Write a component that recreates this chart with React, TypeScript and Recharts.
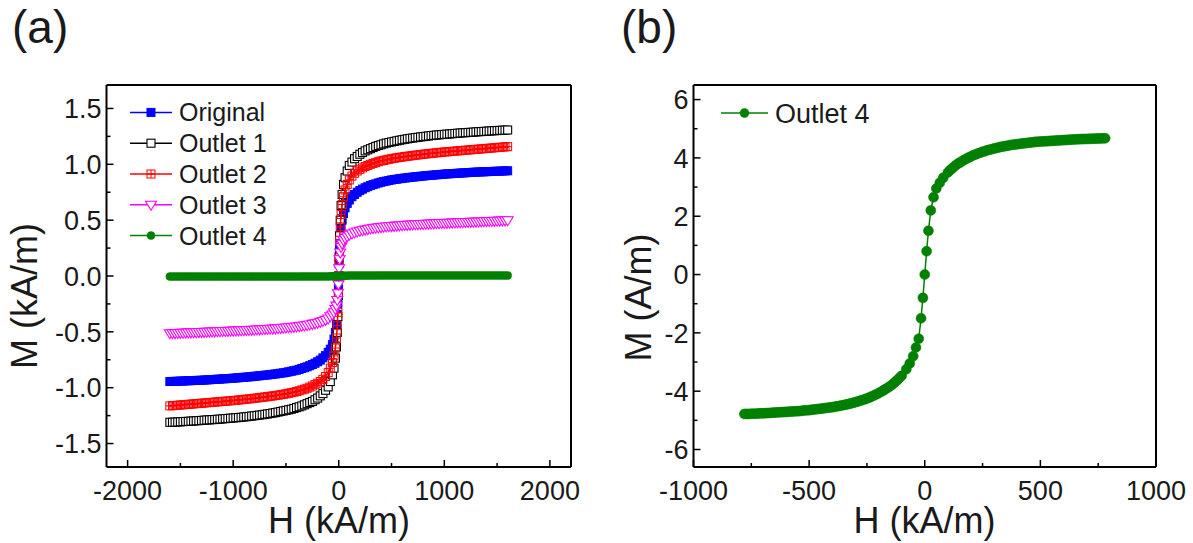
import React from 'react';
import { ScatterChart, Scatter, XAxis, YAxis, ReferenceLine, Legend, Label } from 'recharts';

const FONT = '"Liberation Sans", Arial, Helvetica, sans-serif';
const INK = '#1a1a1a';

// ---- panel (a): M (kA/m) vs H (kA/m) ----
const hA = [
  -1600, -1575, -1550, -1525, -1500, -1475, -1450, -1425, -1400, -1375, -1350, -1325, -1300, -1275, -1250, -1225,
  -1200, -1175, -1150, -1125, -1100, -1075, -1050, -1025, -1000, -975, -950, -925, -900, -875, -850, -825,
  -800, -775, -750, -725, -700, -675, -650, -625, -600, -575, -550, -525, -500, -475, -450, -425,
  -400, -375, -350, -325, -300, -275, -250, -225, -200, -175, -150, -125, -100,
  -80, -60, -45, -32, -22, -14, -8, -3, 0, 3, 8, 14, 22, 32, 45, 60, 80,
  100, 125, 150, 175, 200, 225, 250, 275, 300, 325, 350, 375, 400, 425, 450, 475,
  500, 525, 550, 575, 600, 625, 650, 675, 700, 725, 750, 775, 800, 825, 850, 875,
  900, 925, 950, 975, 1000, 1025, 1050, 1075, 1100, 1125, 1150, 1175, 1200, 1225, 1250, 1275,
  1300, 1325, 1350, 1375, 1400, 1425, 1450, 1475, 1500, 1525, 1550, 1575, 1600,
];

const mOriginal = [
  -0.945, -0.944, -0.943, -0.942, -0.941, -0.94, -0.939, -0.938, -0.937, -0.936, -0.935, -0.934, -0.933, -0.932, -0.93, -0.929,
  -0.927, -0.926, -0.924, -0.923, -0.921, -0.92, -0.918, -0.917, -0.915, -0.913, -0.911, -0.909, -0.907, -0.905, -0.903, -0.901,
  -0.898, -0.896, -0.893, -0.891, -0.888, -0.886, -0.883, -0.88, -0.877, -0.874, -0.87, -0.867, -0.863, -0.858, -0.853, -0.848,
  -0.843, -0.836, -0.828, -0.821, -0.813, -0.803, -0.793, -0.781, -0.768, -0.753, -0.733, -0.713, -0.683,
  -0.655, -0.615, -0.565, -0.505, -0.435, -0.345, -0.245, -0.115, 0, 0.11, 0.24, 0.34, 0.43, 0.5, 0.56, 0.61, 0.65,
  0.68, 0.71, 0.73, 0.75, 0.765, 0.778, 0.79, 0.8, 0.81, 0.818, 0.825, 0.833, 0.84, 0.845, 0.85, 0.855,
  0.86, 0.864, 0.867, 0.871, 0.874, 0.877, 0.88, 0.883, 0.885, 0.888, 0.89, 0.893, 0.895, 0.898, 0.9, 0.902,
  0.904, 0.906, 0.908, 0.91, 0.912, 0.914, 0.915, 0.917, 0.918, 0.92, 0.921, 0.923, 0.924, 0.926, 0.927, 0.929,
  0.93, 0.931, 0.932, 0.933, 0.934, 0.935, 0.936, 0.937, 0.938, 0.939, 0.94, 0.941, 0.942,
];

const mOutlet1 = [
  -1.31, -1.309, -1.308, -1.307, -1.305, -1.304, -1.302, -1.301, -1.299, -1.298, -1.296, -1.295, -1.293, -1.291, -1.289, -1.288,
  -1.286, -1.285, -1.283, -1.281, -1.279, -1.277, -1.275, -1.273, -1.271, -1.269, -1.267, -1.265, -1.262, -1.26, -1.257, -1.254,
  -1.251, -1.248, -1.245, -1.242, -1.238, -1.235, -1.231, -1.227, -1.223, -1.218, -1.213, -1.208, -1.203, -1.198, -1.193, -1.186,
  -1.178, -1.171, -1.163, -1.153, -1.143, -1.133, -1.123, -1.108, -1.093, -1.073, -1.053, -1.023, -0.993,
  -0.945, -0.885, -0.825, -0.735, -0.635, -0.505, -0.365, -0.175, 0, 0.17, 0.36, 0.5, 0.63, 0.73, 0.82, 0.88, 0.94,
  0.99, 1.02, 1.05, 1.07, 1.09, 1.105, 1.12, 1.13, 1.14, 1.15, 1.16, 1.168, 1.175, 1.183, 1.19, 1.195,
  1.2, 1.205, 1.21, 1.215, 1.22, 1.224, 1.228, 1.232, 1.235, 1.239, 1.242, 1.245, 1.248, 1.251, 1.254, 1.257,
  1.259, 1.262, 1.264, 1.266, 1.268, 1.27, 1.272, 1.274, 1.276, 1.278, 1.28, 1.282, 1.283, 1.285, 1.286, 1.288,
  1.29, 1.292, 1.293, 1.295, 1.296, 1.298, 1.299, 1.301, 1.302, 1.304, 1.305, 1.306, 1.307,
];

const mOutlet2 = [
  -1.163, -1.161, -1.159, -1.157, -1.155, -1.153, -1.151, -1.149, -1.147, -1.145, -1.143, -1.141, -1.139, -1.137, -1.135, -1.133,
  -1.131, -1.129, -1.127, -1.125, -1.123, -1.121, -1.119, -1.117, -1.115, -1.113, -1.11, -1.108, -1.105, -1.103, -1.1, -1.098,
  -1.095, -1.092, -1.089, -1.086, -1.083, -1.08, -1.077, -1.074, -1.07, -1.067, -1.063, -1.059, -1.055, -1.05, -1.045, -1.04,
  -1.035, -1.028, -1.02, -1.013, -1.005, -0.995, -0.985, -0.973, -0.96, -0.945, -0.925, -0.9, -0.865,
  -0.825, -0.775, -0.715, -0.645, -0.555, -0.445, -0.325, -0.155, 0, 0.15, 0.32, 0.44, 0.55, 0.64, 0.71, 0.77, 0.82,
  0.86, 0.895, 0.92, 0.94, 0.955, 0.968, 0.98, 0.99, 1.0, 1.008, 1.015, 1.023, 1.03, 1.035, 1.04, 1.045,
  1.05, 1.054, 1.058, 1.062, 1.065, 1.069, 1.072, 1.075, 1.078, 1.081, 1.084, 1.087, 1.09, 1.093, 1.095, 1.098,
  1.1, 1.103, 1.105, 1.108, 1.11, 1.112, 1.114, 1.116, 1.118, 1.12, 1.122, 1.124, 1.126, 1.128, 1.13, 1.132,
  1.134, 1.136, 1.138, 1.14, 1.142, 1.144, 1.146, 1.148, 1.15, 1.152, 1.154, 1.156, 1.158,
];

const mOutlet3 = [
  -0.513, -0.512, -0.511, -0.51, -0.509, -0.508, -0.507, -0.506, -0.505, -0.504, -0.503, -0.502, -0.501, -0.5, -0.499, -0.498,
  -0.497, -0.496, -0.495, -0.494, -0.493, -0.492, -0.491, -0.49, -0.489, -0.488, -0.487, -0.486, -0.485, -0.484, -0.483, -0.482,
  -0.481, -0.479, -0.478, -0.477, -0.475, -0.474, -0.472, -0.471, -0.469, -0.467, -0.465, -0.463, -0.461, -0.459, -0.457, -0.455,
  -0.452, -0.449, -0.446, -0.443, -0.439, -0.434, -0.429, -0.424, -0.418, -0.411, -0.403, -0.393, -0.38,
  -0.36, -0.345, -0.325, -0.295, -0.265, -0.215, -0.155, -0.075, 0, 0.07, 0.15, 0.21, 0.26, 0.29, 0.32, 0.34, 0.355,
  0.37, 0.38, 0.39, 0.398, 0.405, 0.41, 0.415, 0.42, 0.425, 0.429, 0.432, 0.435, 0.438, 0.441, 0.443, 0.445,
  0.447, 0.449, 0.451, 0.453, 0.455, 0.457, 0.458, 0.46, 0.461, 0.463, 0.464, 0.465, 0.466, 0.468, 0.469, 0.47,
  0.471, 0.472, 0.473, 0.474, 0.475, 0.476, 0.477, 0.478, 0.479, 0.48, 0.481, 0.482, 0.483, 0.484, 0.485, 0.486,
  0.487, 0.488, 0.489, 0.49, 0.491, 0.492, 0.493, 0.494, 0.495, 0.496, 0.497, 0.498, 0.499,
];

const mOutlet4A = [
  -0.005, -0.005, -0.005, -0.005, -0.005, -0.005, -0.005, -0.005, -0.005, -0.005, -0.005, -0.005, -0.005, -0.005, -0.005, -0.005,
  -0.005, -0.005, -0.005, -0.005, -0.005, -0.005, -0.005, -0.005, -0.005, -0.005, -0.005, -0.005, -0.005, -0.005, -0.005, -0.005,
  -0.005, -0.005, -0.005, -0.005, -0.005, -0.005, -0.005, -0.005, -0.005, -0.005, -0.005, -0.005, -0.005, -0.005, -0.005, -0.005,
  -0.005, -0.005, -0.004, -0.004, -0.004, -0.004, -0.004, -0.004, -0.004, -0.004, -0.004, -0.004, -0.004,
  -0.003, -0.003, -0.002, -0.002, -0.002, -0.001, -0.001, 0, 0, 0, 0.001, 0.001, 0.002, 0.002, 0.002, 0.003, 0.003,
  0.004, 0.004, 0.004, 0.004, 0.004, 0.004, 0.004, 0.004, 0.004, 0.004, 0.004, 0.005, 0.005, 0.005, 0.005, 0.005,
  0.005, 0.005, 0.005, 0.005, 0.005, 0.005, 0.005, 0.005, 0.005, 0.005, 0.005, 0.005, 0.005, 0.005, 0.005, 0.005,
  0.005, 0.005, 0.005, 0.005, 0.005, 0.005, 0.005, 0.005, 0.005, 0.005, 0.005, 0.005, 0.005, 0.005, 0.005, 0.005,
  0.005, 0.005, 0.005, 0.005, 0.005, 0.005, 0.005, 0.005, 0.005, 0.005, 0.005, 0.005, 0.005,
];

const xTicksA = [-2000, -1500, -1000, -500, 0, 500, 1000, 1500, 2000];
const xMajorsA = [-2000, -1000, 0, 1000, 2000];
const yTicksA = [-1.5, -1.25, -1, -0.75, -0.5, -0.25, 0, 0.25, 0.5, 0.75, 1, 1.25, 1.5];
const yMajorsA = [-1.5, -1, -0.5, 0, 0.5, 1, 1.5];

// ---- panel (b): Outlet 4, M (A/m) vs H (kA/m) ----
const hB = [
  -780, -770, -760, -750, -740, -730, -720, -710, -700, -690, -680, -670, -660, -650, -640, -630, -620, -610, -600, -590,
  -580, -570, -560, -550, -540, -530, -520, -510, -500, -490, -480, -470, -460, -450, -440, -430, -420, -410, -400, -390,
  -380, -370, -360, -350, -340, -330, -320, -310, -300, -290, -280, -270, -260, -250, -240, -230, -220, -210, -200, -190,
  -180, -170, -160, -150, -140, -130, -120, -110, -100,
  -80, -65, -50, -38, -26, -16, -8, 0, 8, 16, 26, 38, 50, 65, 80,
  100, 110, 120, 130, 140, 150, 160, 170, 180, 190, 200, 210, 220, 230, 240, 250, 260, 270, 280, 290,
  300, 310, 320, 330, 340, 350, 360, 370, 380, 390, 400, 410, 420, 430, 440, 450, 460, 470, 480, 490,
  500, 510, 520, 530, 540, 550, 560, 570, 580, 590, 600, 610, 620, 630, 640, 650, 660, 670, 680, 690,
  700, 710, 720, 730, 740, 750, 760, 770, 780,
];

const mOutlet4B = [
  -4.78, -4.78, -4.78, -4.775, -4.77, -4.77, -4.765, -4.76, -4.76, -4.755, -4.75, -4.745, -4.74, -4.735, -4.73, -4.725, -4.72, -4.715, -4.71, -4.705,
  -4.7, -4.695, -4.69, -4.685, -4.68, -4.67, -4.66, -4.655, -4.65, -4.64, -4.63, -4.62, -4.61, -4.6, -4.59, -4.58, -4.57, -4.56, -4.55, -4.535,
  -4.52, -4.505, -4.49, -4.475, -4.46, -4.44, -4.42, -4.4, -4.38, -4.355, -4.33, -4.305, -4.28, -4.25, -4.22, -4.185, -4.15, -4.11, -4.07, -4.025,
  -3.98, -3.93, -3.88, -3.83, -3.77, -3.7, -3.63, -3.55, -3.47,
  -3.25, -3.05, -2.8, -2.5, -2.2, -1.5, -0.8, 0, 0.8, 1.5, 2.2, 2.65, 2.95, 3.15, 3.32,
  3.5, 3.58, 3.65, 3.72, 3.78, 3.83, 3.88, 3.93, 3.97, 4.01, 4.05, 4.09, 4.12, 4.15, 4.18, 4.21, 4.23, 4.26, 4.28, 4.3,
  4.32, 4.34, 4.36, 4.38, 4.39, 4.41, 4.42, 4.44, 4.45, 4.46, 4.47, 4.48, 4.49, 4.5, 4.51, 4.52, 4.53, 4.54, 4.55, 4.555,
  4.56, 4.565, 4.57, 4.575, 4.58, 4.585, 4.59, 4.595, 4.6, 4.605, 4.61, 4.615, 4.62, 4.625, 4.63, 4.635, 4.64, 4.642, 4.645, 4.648,
  4.65, 4.653, 4.656, 4.659, 4.662, 4.665, 4.668, 4.67, 4.672,
];

const xTicksB = [-1000, -750, -500, -250, 0, 250, 500, 750, 1000];
const xMajorsB = [-1000, -500, 0, 500, 1000];
const yTicksB = [-6, -5, -4, -3, -2, -1, 0, 1, 2, 3, 4, 5, 6];
const yMajorsB = [-6, -4, -2, 0, 2, 4, 6];

const toPoints = (hs: number[], ms: number[]) => hs.map((h, i) => ({ h, m: ms[i] }));

type Kind = 'fsquare' | 'osquare' | 'xsquare' | 'otri' | 'circle';

const seriesA = [
  { name: 'Original', color: '#0000ff', kind: 'fsquare' as Kind, size: 8, data: toPoints(hA, mOriginal) },
  { name: 'Outlet 1', color: '#000000', kind: 'osquare' as Kind, size: 8, data: toPoints(hA, mOutlet1) },
  { name: 'Outlet 2', color: '#ff0000', kind: 'xsquare' as Kind, size: 8, data: toPoints(hA, mOutlet2) },
  { name: 'Outlet 3', color: '#ff00ff', kind: 'otri' as Kind, size: 9, data: toPoints(hA, mOutlet3) },
  { name: 'Outlet 4', color: '#008000', kind: 'circle' as Kind, size: 8, data: toPoints(hA, mOutlet4A) },
];

const seriesB = [
  { name: 'Outlet 4', color: '#008000', kind: 'circle' as Kind, size: 10, data: toPoints(hB, mOutlet4B) },
];

function drawMarker(kind: Kind, color: string, cx: number, cy: number, s: number) {
  const h = s / 2;
  switch (kind) {
    case 'fsquare':
      return <rect x={cx - h} y={cy - h} width={s} height={s} fill={color} stroke={color} strokeWidth={1} />;
    case 'osquare':
      return <rect x={cx - h} y={cy - h} width={s} height={s} fill="#fff" stroke={color} strokeWidth={1.1} />;
    case 'xsquare':
      return (
        <g stroke={color} strokeWidth={1} fill="none">
          <rect x={cx - h} y={cy - h} width={s} height={s} />
          <line x1={cx} x2={cx} y1={cy - h} y2={cy + h} />
          <line x1={cx - h} x2={cx + h} y1={cy} y2={cy} />
        </g>
      );
    case 'otri':
      return (
        <path
          d={`M${cx - h - 1},${cy - h + 1} L${cx + h + 1},${cy - h + 1} L${cx},${cy + h + 1} Z`}
          fill="#fff"
          stroke={color}
          strokeWidth={1.1}
        />
      );
    default:
      return <circle cx={cx} cy={cy} r={h} fill={color} stroke={color} strokeWidth={0.5} />;
  }
}

const shapeFor = (kind: Kind, color: string, size: number) => (p: any) =>
  drawMarker(kind, color, p.cx, p.cy, size);

const yTick = (majors: number[], fmt: (v: number) => string) => (p: any) => {
  const { x, y, payload } = p;
  const major = majors.includes(payload.value);
  return (
    <g>
      <line x1={x} x2={x + (major ? 7 : 4)} y1={y} y2={y} stroke="#000" strokeWidth={1.5} />
      {major && (
        <text x={x - 5} y={y} dy="0.36em" textAnchor="end" fontSize={27} fontFamily={FONT} fill={INK}>
          {fmt(payload.value)}
        </text>
      )}
    </g>
  );
};

const xTick = (majors: number[]) => (p: any) => {
  const { x, y, payload } = p;
  const major = majors.includes(payload.value);
  return (
    <g>
      <line x1={x} x2={x} y1={y} y2={y - (major ? 7 : 4)} stroke="#000" strokeWidth={1.5} />
      {major && (
        <text x={x} y={y + 33} textAnchor="middle" fontSize={27} fontFamily={FONT} fill={INK}>
          {String(payload.value)}
        </text>
      )}
    </g>
  );
};

const xTitle = (text: string, cx: number) => () => (
  <text x={cx} y={533} textAnchor="middle" fontSize={36} fontFamily={FONT} fill={INK}>
    {text}
  </text>
);

const yTitle = (text: string, bx: number, cy: number) => () => (
  <text
    x={bx}
    y={cy}
    transform={`rotate(-90 ${bx} ${cy})`}
    textAnchor="middle"
    fontSize={36}
    fontFamily={FONT}
    fill={INK}
  >
    {text}
  </text>
);

function LegendBox({ items, rowH, lineW, fontSize }: any) {
  return (
    <svg width={240} height={items.length * rowH} style={{ display: 'block', overflow: 'visible' }}>
      {items.map((it: any, i: number) => {
        const cy = rowH * i + rowH / 2;
        return (
          <g key={it.name + i}>
            <line x1={0} x2={lineW} y1={cy} y2={cy} stroke={it.color} strokeWidth={1.5} />
            {drawMarker(it.kind, it.color, lineW / 2, cy, it.size)}
            <text x={lineW + 7} y={cy} dy="0.36em" fontSize={fontSize} fontFamily={FONT} fill={INK}>
              {it.name}
            </text>
          </g>
        );
      })}
    </svg>
  );
}

const axisLine = { stroke: '#000', strokeWidth: 2 };

function PanelA() {
  return (
    <ScatterChart width={600} height={543} margin={{ top: 85, right: 29, bottom: 0, left: 0 }}>
      <XAxis
        type="number"
        dataKey="h"
        domain={[-2200, 2200]}
        allowDataOverflow
        ticks={xTicksA}
        interval={0}
        height={76}
        tickSize={0}
        tickMargin={0}
        tickLine={false}
        axisLine={axisLine}
        tick={xTick(xMajorsA)}
      >
        <Label content={xTitle('H (kA/m)', 339)} />
      </XAxis>
      <YAxis
        type="number"
        dataKey="m"
        domain={[-1.71, 1.71]}
        allowDataOverflow
        ticks={yTicksA}
        interval={0}
        width={106.5}
        tickSize={0}
        tickMargin={0}
        tickLine={false}
        axisLine={axisLine}
        tick={yTick(yMajorsA, (v) => v.toFixed(1))}
      >
        <Label content={yTitle('M (kA/m)', 37, 296)} />
      </YAxis>
      <ReferenceLine y={1.71} stroke="#000" strokeWidth={2} />
      <ReferenceLine x={2200} stroke="#000" strokeWidth={2} />
      {seriesA.map((s) => (
        <Scatter
          key={s.name}
          name={s.name}
          data={s.data}
          line={{ stroke: s.color, strokeWidth: 1.5 }}
          shape={shapeFor(s.kind, s.color, s.size)}
          isAnimationActive={false}
        />
      ))}
      <Legend
        layout="vertical"
        align="center"
        verticalAlign="middle"
        wrapperStyle={{ left: 130, top: 97, width: 240 }}
        content={() => <LegendBox items={seriesA} rowH={30.8} lineW={42} fontSize={25} />}
      />
    </ScatterChart>
  );
}

function PanelB() {
  return (
    <ScatterChart width={593} height={543} margin={{ top: 85, right: 37, bottom: 0, left: 0 }}>
      <XAxis
        type="number"
        dataKey="h"
        domain={[-1000, 1000]}
        allowDataOverflow
        ticks={xTicksB}
        interval={0}
        height={76}
        tickSize={0}
        tickMargin={0}
        tickLine={false}
        axisLine={axisLine}
        tick={xTick(xMajorsB)}
      >
        <Label content={xTitle('H (kA/m)', 324.5)} />
      </XAxis>
      <YAxis
        type="number"
        dataKey="m"
        domain={[-6.6, 6.5]}
        allowDataOverflow
        ticks={yTicksB}
        interval={0}
        width={93.5}
        tickSize={0}
        tickMargin={0}
        tickLine={false}
        axisLine={axisLine}
        tick={yTick(yMajorsB, (v) => String(v))}
      >
        <Label content={yTitle('M (A/m)', 51, 297.5)} />
      </YAxis>
      <ReferenceLine y={6.5} stroke="#000" strokeWidth={2} />
      <ReferenceLine x={1000} stroke="#000" strokeWidth={2} />
      {seriesB.map((s) => (
        <Scatter
          key={s.name}
          name={s.name}
          data={s.data}
          line={{ stroke: s.color, strokeWidth: 1.5 }}
          shape={shapeFor(s.kind, s.color, s.size)}
          isAnimationActive={false}
        />
      ))}
      <Legend
        layout="vertical"
        align="center"
        verticalAlign="middle"
        wrapperStyle={{ left: 121, top: 98, width: 240 }}
        content={() => <LegendBox items={seriesB.map((s) => ({ ...s, size: 9 }))} rowH={30} lineW={47} fontSize={27} />}
      />
    </ScatterChart>
  );
}

export default function App() {
  return (
    <div style={{ position: 'absolute', left: 0, top: 0, width: 1193, height: 543, background: '#fff', overflow: 'hidden' }}>
      <div style={{ position: 'absolute', left: 0, top: 0 }}>
        <PanelA />
      </div>
      <div style={{ position: 'absolute', left: 600, top: 0 }}>
        <PanelB />
      </div>
      <svg width={1193} height={60} style={{ position: 'absolute', left: 0, top: 0, pointerEvents: 'none' }}>
        <text x={12} y={43} fontSize={46} fontFamily={FONT} fill={INK}>(a)</text>
        <text x={621} y={43} fontSize={46} fontFamily={FONT} fill={INK}>(b)</text>
      </svg>
    </div>
  );
}
